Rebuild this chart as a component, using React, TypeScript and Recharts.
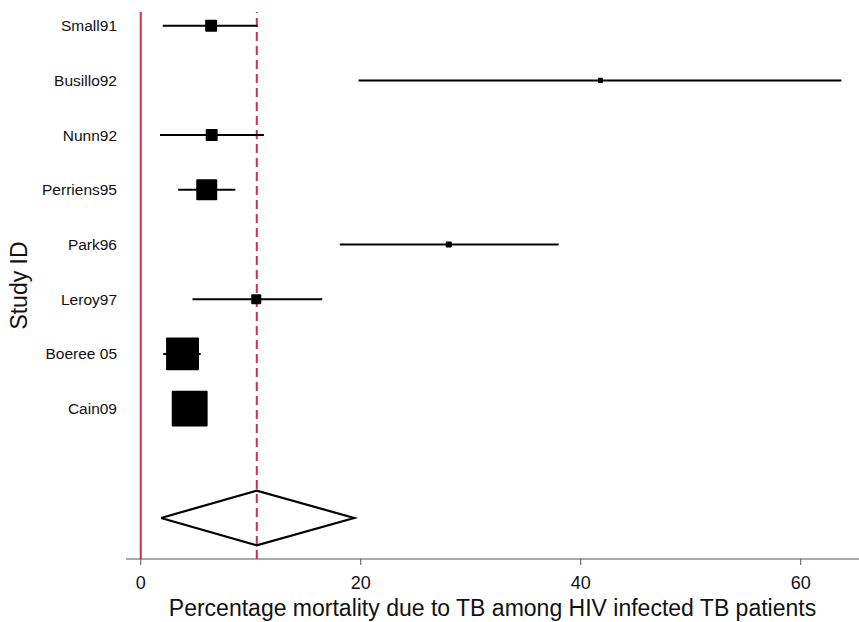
import { ComposedChart, Scatter, ErrorBar, Line, XAxis, YAxis, ReferenceLine } from 'recharts';

// studies, top to bottom
const studies = ['Small91', 'Busillo92', 'Nunn92', 'Perriens95', 'Park96', 'Leroy97', 'Boeree 05', 'Cain09'];
const estimates = [6.4, 41.8, 6.45, 6.0, 28.0, 10.5, 3.8, 4.45];
const lower = [2.0, 19.8, 1.75, 3.4, 18.1, 4.7, 2.05, 3.6];
const upper = [10.6, 63.7, 11.2, 8.6, 38.0, 16.5, 5.45, 5.3];
const weights = [4.4, 0.8, 4.4, 13.5, 1.1, 3.1, 33.3, 39.6];

// pooled estimate (diamond)
const pooledEst = 10.55;
const pooledLower = 1.85;
const pooledUpper = 19.4;

const xTicks = [0, 20, 40, 60];

const RED = '#c8324f';
const INK = '#111';
const FONT = '"Liberation Sans", Arial, sans-serif';

const studyData = studies.map((name, i) => ({
  name,
  est: estimates[i],
  row: i + 1,
  weight: weights[i],
  ci: [estimates[i] - lower[i], upper[i] - estimates[i]],
}));

const pooledRow = studies.length + 2;
const diamond = [
  { est: pooledLower, row: pooledRow },
  { est: pooledEst, row: pooledRow - 0.5 },
  { est: pooledUpper, row: pooledRow },
  { est: pooledEst, row: pooledRow + 0.5 },
  { est: pooledLower, row: pooledRow },
];

const WeightSquare = (props: any) => {
  const { cx, cy, payload } = props;
  const s = Math.sqrt(payload.weight) * 5.7;
  return <rect x={cx - s / 2} y={cy - s / 2} width={s} height={s} fill="#000" rx={1} />;
};

export default function App() {
  return (
    <div style={{ position: 'absolute', left: 0, top: 0, width: 859, height: 622, background: '#fff' }}>
      <ComposedChart width={859} height={622} margin={{ top: 12, right: 0, bottom: 0, left: 0 }}>
        <XAxis
          dataKey="est"
          type="number"
          domain={[-1.34, 65.3]}
          allowDataOverflow
          ticks={xTicks}
          height={63}
          tickSize={6}
          tickMargin={11}
          stroke="#555"
          tick={{ fontSize: 18, fill: INK, fontFamily: FONT }}
          label={{
            value: 'Percentage mortality due to TB among HIV infected TB patients',
            position: 'insideBottom',
            offset: 6,
            style: { fontSize: 23, fill: INK, fontFamily: FONT },
          }}
        />
        <YAxis
          dataKey="row"
          type="number"
          reversed
          domain={[0.75, 10.75]}
          allowDataOverflow
          ticks={studyData.map((d) => d.row)}
          tickFormatter={(v) => studies[v - 1] ?? ''}
          width={126}
          axisLine={false}
          tickLine={false}
          tickSize={0}
          tickMargin={9}
          tick={{ fontSize: 15.5, fill: INK, fontFamily: FONT }}
          label={{
            value: 'Study ID',
            angle: -90,
            position: 'insideLeft',
            offset: 19,
            style: { fontSize: 23, fill: INK, fontFamily: FONT, textAnchor: 'middle' },
          }}
        />
        <ReferenceLine x={0} stroke={RED} strokeWidth={2} />
        <ReferenceLine x={pooledEst} stroke={RED} strokeWidth={2} strokeDasharray="9 5" />
        <Scatter data={studyData} shape={WeightSquare} isAnimationActive={false}>
          <ErrorBar dataKey="ci" direction="x" width={0} stroke="#000" strokeWidth={2} />
        </Scatter>
        <Line
          data={diamond}
          dataKey="row"
          type="linear"
          stroke="#000"
          strokeWidth={2.2}
          dot={false}
          activeDot={false}
          isAnimationActive={false}
        />
      </ComposedChart>
    </div>
  );
}
